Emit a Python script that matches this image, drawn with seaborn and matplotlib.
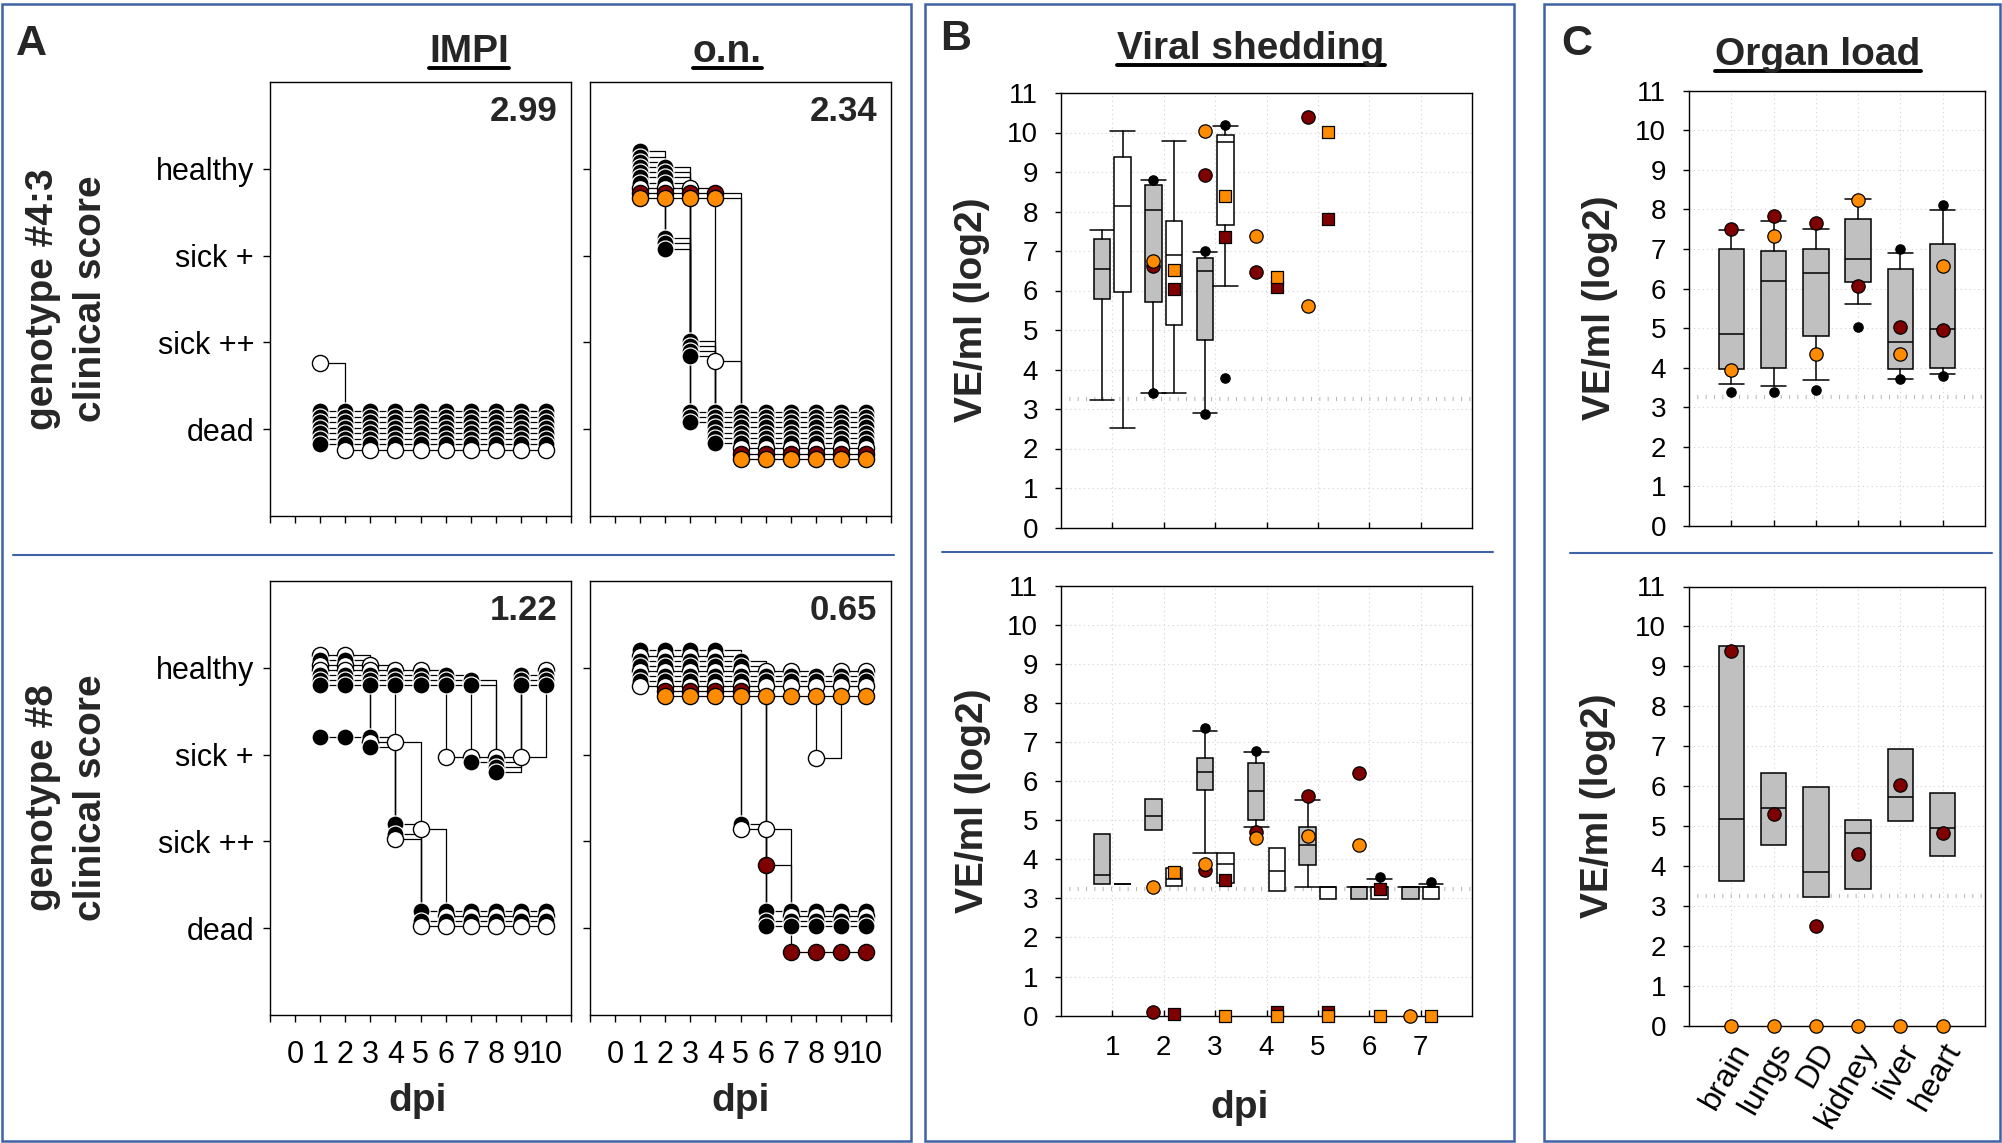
import matplotlib
matplotlib.use("Agg")
import matplotlib.pyplot as plt
import matplotlib.transforms as mtransforms
from matplotlib.lines import Line2D
from matplotlib.patches import Rectangle
import seaborn as sns
import numpy as np

# ---- Data -------------------------------------------####

# panel A: clinical score per animal and day (3 healthy, 2 sick +, 1 sick ++, 0 dead)
days = list(range(1, 11))
score_names = ["dead", "sick ++", "sick +", "healthy"]
day_ticks = list(range(-1, 12))
day_tick_labels = [""] + [str(d) for d in range(0, 11)] + [""]

impi_43_scores = [
    [0, 0, 0, 0, 0, 0, 0, 0, 0, 0],
    [0, 0, 0, 0, 0, 0, 0, 0, 0, 0],
    [0, 0, 0, 0, 0, 0, 0, 0, 0, 0],
    [0, 0, 0, 0, 0, 0, 0, 0, 0, 0],
    [0, 0, 0, 0, 0, 0, 0, 0, 0, 0],
    [0, 0, 0, 0, 0, 0, 0, 0, 0, 0],
    [0, 0, 0, 0, 0, 0, 0, 0, 0, 0],
    [1, 0, 0, 0, 0, 0, 0, 0, 0, 0],
]
impi_43_fill = ["k", "k", "k", "k", "k", "k", "k", "w"]

on_43_scores = [
    [3, 2, 0, 0, 0, 0, 0, 0, 0, 0],
    [3, 2, 0, 0, 0, 0, 0, 0, 0, 0],
    [3, 2, 0, 0, 0, 0, 0, 0, 0, 0],
    [3, 3, 1, 0, 0, 0, 0, 0, 0, 0],
    [3, 3, 1, 0, 0, 0, 0, 0, 0, 0],
    [3, 3, 1, 0, 0, 0, 0, 0, 0, 0],
    [3, 3, 1, 0, 0, 0, 0, 0, 0, 0],
    [3, 3, 3, 1, 0, 0, 0, 0, 0, 0],
    [3, 3, 3, 3, 0, 0, 0, 0, 0, 0],
    [3, 3, 3, 3, 0, 0, 0, 0, 0, 0],
]
on_43_fill = ["k", "k", "k", "k", "k", "k", "k", "w", "r", "o"]

impi_8_scores = [
    [2, 2, 2, 1, 0, 0, 0, 0, 0, 0],
    [3, 3, 2, 2, 1, 0, 0, 0, 0, 0],
    [3, 3, 2, 1, 0, 0, 0, 0, 0, 0],
    [3, 3, 3, 1, 0, 0, 0, 0, 0, 0],
    [3, 3, 3, 3, 3, 2, 2, 2, 2, 3],
    [3, 3, 3, 3, 3, 3, 2, 2, 3, 3],
    [3, 3, 3, 3, 3, 3, 3, 2, 3, 3],
    [3, 3, 3, 3, 3, 3, 3, 2, 3, 3],
]
impi_8_fill = ["k", "w", "k", "w", "w", "k", "k", "k"]

on_8_scores = [
    [3, 3, 3, 3, 1, 0, 0, 0, 0, 0],
    [3, 3, 3, 3, 1, 1, 0, 0, 0, 0],
    [3, 3, 3, 3, 3, 0, 0, 0, 0, 0],
    [3, 3, 3, 3, 3, 0, 0, 0, 0, 0],
    [3, 3, 3, 3, 3, 3, 3, 2, 3, 3],
    [3, 3, 3, 3, 3, 3, 3, 3, 3, 3],
    [3, 3, 3, 3, 3, 3, 3, 3, 3, 3],
    [3, 3, 3, 3, 3, 3, 3, 3, 3, 3],
    [None, 3, 3, 3, 3, 1, 0, 0, 0, 0],
    [None, 3, 3, 3, 3, 3, 3, 3, 3, 3],
]
on_8_fill = ["k", "w", "k", "k", "w", "k", "k", "w", "r", "o"]

score_values = ["2.99", "2.34", "1.22", "0.65"]

# panel B: viral shedding, genotype #4:3
shed_days = [1, 2, 3, 4, 5, 6, 7]
shed43_box_days = [1, 2, 3]
shed43_grey_q1 = [5.78, 5.72, 4.74]
shed43_grey_med = [6.55, 8.04, 6.49]
shed43_grey_q3 = [7.31, 8.66, 6.83]
shed43_grey_lo = [3.24, 3.40, 2.90]
shed43_grey_hi = [7.54, 8.79, 6.97]
shed43_white_q1 = [5.96, 5.13, 7.67]
shed43_white_med = [8.14, 6.89, 9.76]
shed43_white_q3 = [9.38, 7.76, 9.93]
shed43_white_lo = [2.53, 3.40, 6.12]
shed43_white_hi = [10.03, 9.78, 10.16]
shed43_black_grey_days = [2, 2, 3, 3]
shed43_black_grey = [8.81, 3.40, 7.00, 2.87]
shed43_black_white_days = [3, 3]
shed43_black_white = [10.18, 3.78]
shed43_pt_days = [2, 3, 4, 5]
shed43_orange_circ = [6.74, 10.03, 7.37, 5.62]
shed43_red_circ = [6.62, 8.93, 6.47, 10.40]
shed43_orange_sq = [6.53, 8.38, 6.34, 10.01]
shed43_red_sq = [6.05, 7.36, 6.10, 7.82]

# panel B: viral shedding, genotype #8
nan = np.nan
shed8_grey_q1 = [3.38, 4.74, 5.78, 5.00, 3.86, 2.98, 2.98]
shed8_grey_med = [3.59, 5.11, 6.24, 5.74, 4.38, 3.30, 3.30]
shed8_grey_q3 = [4.64, 5.55, 6.59, 6.48, 4.84, 3.30, 3.30]
shed8_grey_lo = [nan, nan, 4.17, 4.83, 3.30, nan, nan]
shed8_grey_hi = [nan, nan, 7.30, 6.74, 5.51, 3.30, 3.30]
shed8_white_q1 = [3.38, 3.32, 3.40, 3.19, 2.98, 2.98, 2.98]
shed8_white_med = [3.38, 3.50, 3.89, 3.71, 3.30, 3.30, 3.30]
shed8_white_q3 = [3.38, 3.78, 4.17, 4.30, 3.30, 3.30, 3.30]
shed8_white_lo = [nan, nan, nan, nan, nan, nan, nan]
shed8_white_hi = [nan, nan, nan, nan, nan, 3.51, 3.36]
shed8_black_grey_days = [3, 4]
shed8_black_grey = [7.36, 6.78]
shed8_black_white_days = [6, 7]
shed8_black_white = [3.55, 3.42]
shed8_orange_circ_days = [2, 3, 4, 5, 6, 7]
shed8_orange_circ = [3.30, 3.88, 4.54, 4.60, 4.37, 0.0]
shed8_red_circ_days = [2, 3, 4, 5, 6]
shed8_red_circ = [0.08, 3.74, 4.71, 5.62, 6.21]
shed8_orange_sq_days = [2, 3, 4, 5, 6, 7]
shed8_orange_sq = [3.67, 0.0, 0.0, 0.0, 0.0, 0.0]
shed8_red_sq_days = [2, 3, 4, 5, 6]
shed8_red_sq = [0.05, 3.46, 0.10, 0.10, 3.25]

detection_limit = 3.25

# panel C: organ load
organs = ["brain", "lungs", "DD", "kidney", "liver", "heart"]
organ_pos = [1, 2, 3, 4, 5, 6]
organ43_q1 = [3.98, 4.00, 4.80, 6.17, 3.96, 4.00]
organ43_med = [4.84, 6.19, 6.40, 6.75, 4.64, 4.98]
organ43_q3 = [7.01, 6.95, 7.01, 7.77, 6.50, 7.12]
organ43_lo = [3.60, 3.55, 3.69, 5.62, 3.72, 3.84]
organ43_hi = [7.48, 7.71, 7.51, 8.26, 6.91, 7.98]
organ43_black_pos = [1, 2, 3, 4, 5, 5, 6, 6]
organ43_black = [3.38, 3.39, 3.44, 5.04, 6.99, 3.71, 8.12, 3.79]
organ43_red = [7.50, 7.83, 7.65, 6.07, 5.02, 4.95]
organ43_orange = [3.94, 7.33, 4.34, 8.25, 4.34, 6.58]

organ8_q1 = [3.62, 4.53, 3.22, 3.42, 5.13, 4.25]
organ8_med = [5.18, 5.46, 3.85, 4.82, 5.72, 4.94]
organ8_q3 = [9.51, 6.33, 5.97, 5.14, 6.92, 5.82]
organ8_lo = [nan, nan, nan, nan, nan, nan]
organ8_hi = [nan, nan, nan, nan, nan, nan]
organ8_red = [9.38, 5.31, 2.50, 4.30, 6.04, 4.82]
organ8_orange = [0.0, 0.0, 0.0, 0.0, 0.0, 0.0]


# ---- Style -------------------------------------------####

sns.set_style("ticks")
plt.rcParams["font.family"] = ["Liberation Sans", "DejaVu Sans"]
plt.rcParams["axes.linewidth"] = 1.0

ORANGE = "#FF8C00"
DARKRED = "#7F0000"
GREY = "#C0C0C0"
BLUE = "#3F62A6"
fill_style = {"k": ("black", "white"), "w": ("white", "black"),
              "o": (ORANGE, "black"), "r": (DARKRED, "black")}

W, H = 2002, 1143
fig = plt.figure(figsize=(W / 100, H / 100), dpi=100)


def px_box(x0, y0, x1, y1):
    return [x0 / W, 1 - y1 / H, (x1 - x0) / W, (y1 - y0) / H]


# ---- Panel A: clinical scores -------------------------------------------####

def clinical_panel(rect, scores, fills, off_top, off_bot, value, left, bottom):
    ax = fig.add_axes(px_box(*rect))
    offs = np.linspace(off_top, off_bot, len(scores))
    ys = []
    for sc, off in zip(scores, offs):
        y = np.array([np.nan if v is None else v for v in sc], float) + off
        ys.append(y)
        ax.plot(days, y, drawstyle="steps-post", color="black", lw=0.9, zorder=2)
    for k, (y, fill) in enumerate(zip(ys, fills)):
        face, edge = fill_style[fill]
        size, ew = (150, 0.9) if fill == "k" else (135, 1.0)
        sns.scatterplot(x=days, y=y, ax=ax, s=size, color=face, edgecolor=edge,
                        linewidth=ew, zorder=3 + k, legend=False)
    ax.set_xlim(-1, 11)
    ax.set_ylim(-1, 4)
    ax.set_xticks(day_ticks)
    ax.set_xticklabels(day_tick_labels if bottom else [""] * len(day_ticks))
    ax.set_yticks([0, 1, 2, 3])
    ax.set_yticklabels(score_names if left else [""] * 4)
    ax.tick_params(axis="both", direction="out", length=5, width=1,
                   labelsize=22, colors="black")
    ax.tick_params(axis="y", pad=6.5)
    ax.tick_params(axis="x", pad=13)
    ax.set_xlabel("")
    ax.set_ylabel("")
    for s in ax.spines.values():
        s.set_visible(True)
        s.set_color("black")
    ax.text(0.955, 0.91, value, transform=ax.transAxes, ha="right",
            va="baseline", fontsize=25, fontweight="bold")
    return ax


clinical_panel((270, 82, 571, 516), impi_43_scores, impi_43_fill, 0.21, -0.24,
               score_values[0], True, False)
clinical_panel((590, 82, 891, 516), on_43_scores, on_43_fill, 0.20, -0.34,
               score_values[1], False, False)
clinical_panel((270, 581, 571, 1015), impi_8_scores, impi_8_fill, 0.20, -0.20,
               score_values[2], True, True)
clinical_panel((590, 581, 891, 1015), on_8_scores, on_8_fill, 0.20, -0.33,
               score_values[3], False, True)


# ---- Panels B and C: virus loads -------------------------------------------####

def draw_boxes(ax, pos, q1, med, q3, lo, hi, face, width, capw):
    for p, a, m, b, l, h in zip(pos, q1, med, q3, lo, hi):
        st = {"med": m, "q1": a, "q3": b,
              "whislo": a if np.isnan(l) else l,
              "whishi": b if np.isnan(h) else h, "fliers": []}
        art = ax.bxp([st], positions=[p], widths=width, capwidths=capw,
                     patch_artist=True, manage_ticks=False, showfliers=False,
                     boxprops=dict(facecolor=face, edgecolor="black", linewidth=1.1),
                     medianprops=dict(color="black", linewidth=1.1),
                     whiskerprops=dict(color="black", linewidth=1.1),
                     capprops=dict(color="black", linewidth=1.1), zorder=3)
        art["caps"][0].set_visible(not np.isnan(l))
        art["caps"][1].set_visible(not np.isnan(h))


def dots(ax, x, y, face, marker, size, z):
    sns.scatterplot(x=list(x), y=list(y), ax=ax, color=face, marker=marker, s=size,
                    edgecolor="black", linewidth=0.9, zorder=z, clip_on=False,
                    legend=False)


def load_axes(rect, xmax, ticks, labels):
    ax = fig.add_axes(px_box(*rect))
    ax.set_xlim(0, xmax)
    ax.set_ylim(0, 11)
    ax.set_yticks(range(0, 12))
    ax.set_xticks(ticks)
    ax.set_xticklabels(labels)
    ax.grid(True, color="#D2D2D2", lw=0.8, ls=(0, (1, 3)))
    ax.set_axisbelow(True)
    ax.axhline(detection_limit, color="#B8B8B8", lw=3, ls=(0, (0.25, 1.75)), zorder=1)
    ax.tick_params(axis="y", direction="out", length=4.5, width=1, labelsize=20,
                   pad=12, colors="black")
    ax.tick_params(axis="x", direction="in", length=4.5, width=1, labelsize=20,
                   pad=14, colors="black")
    for s in ax.spines.values():
        s.set_visible(True)
        s.set_color("black")
    return ax


GOFF, WOFF = -0.2, 0.2
S_BIG, S_SQ, S_BLACK = 92, 80, 45

# B top
ax = load_axes((1061, 93, 1472, 527.5), 8, shed_days, [""] * 7)
draw_boxes(ax, [d + GOFF for d in shed43_box_days], shed43_grey_q1, shed43_grey_med,
           shed43_grey_q3, shed43_grey_lo, shed43_grey_hi, GREY, 0.32, 0.48)
draw_boxes(ax, [d + WOFF for d in shed43_box_days], shed43_white_q1, shed43_white_med,
           shed43_white_q3, shed43_white_lo, shed43_white_hi, "white", 0.32, 0.48)
dots(ax, [d + GOFF for d in shed43_black_grey_days], shed43_black_grey, "black", "o", S_BLACK, 5)
dots(ax, [d + WOFF for d in shed43_black_white_days], shed43_black_white, "black", "o", S_BLACK, 5)
dots(ax, [d + GOFF for d in shed43_pt_days], shed43_red_circ, DARKRED, "o", S_BIG, 6)
dots(ax, [d + GOFF for d in shed43_pt_days], shed43_orange_circ, ORANGE, "o", S_BIG, 7)
dots(ax, [d + WOFF for d in shed43_pt_days], shed43_red_sq, DARKRED, "s", S_SQ, 6)
dots(ax, [d + WOFF for d in shed43_pt_days], shed43_orange_sq, ORANGE, "s", S_SQ, 7)

# B bottom
ax = load_axes((1061, 586, 1472, 1015.6), 8, shed_days, [str(d) for d in shed_days])
draw_boxes(ax, [d + GOFF for d in shed_days], shed8_grey_q1, shed8_grey_med,
           shed8_grey_q3, shed8_grey_lo, shed8_grey_hi, GREY, 0.32, 0.48)
draw_boxes(ax, [d + WOFF for d in shed_days], shed8_white_q1, shed8_white_med,
           shed8_white_q3, shed8_white_lo, shed8_white_hi, "white", 0.32, 0.48)
dots(ax, [d + GOFF for d in shed8_black_grey_days], shed8_black_grey, "black", "o", S_BLACK, 5)
dots(ax, [d + WOFF for d in shed8_black_white_days], shed8_black_white, "black", "o", S_BLACK, 5)
dots(ax, [d + GOFF for d in shed8_red_circ_days], shed8_red_circ, DARKRED, "o", S_BIG, 6)
dots(ax, [d + GOFF for d in shed8_orange_circ_days], shed8_orange_circ, ORANGE, "o", S_BIG, 7)
dots(ax, [d + WOFF for d in shed8_red_sq_days], shed8_red_sq, DARKRED, "s", S_SQ, 6)
dots(ax, [d + WOFF for d in shed8_orange_sq_days], shed8_orange_sq, ORANGE, "s", S_SQ, 7)

# C top
ax = load_axes((1689, 90.7, 1985, 526), 7, organ_pos, [""] * 6)
draw_boxes(ax, organ_pos, organ43_q1, organ43_med, organ43_q3, organ43_lo, organ43_hi,
           GREY, 0.6, 0.6)
dots(ax, organ43_black_pos, organ43_black, "black", "o", S_BLACK, 5)
dots(ax, organ_pos, organ43_red, DARKRED, "o", S_BIG, 6)
dots(ax, organ_pos, organ43_orange, ORANGE, "o", S_BIG, 7)

# C bottom
ax = load_axes((1689, 586.5, 1985, 1025.7), 7, organ_pos, organs)
draw_boxes(ax, organ_pos, organ8_q1, organ8_med, organ8_q3, organ8_lo, organ8_hi,
           GREY, 0.6, 0.6)
dots(ax, organ_pos, organ8_red, DARKRED, "o", S_BIG, 6)
dots(ax, organ_pos, organ8_orange, ORANGE, "o", S_BIG, 7)
shift = mtransforms.ScaledTranslation(12 / 100, 0, fig.dpi_scale_trans)
for lab in ax.get_xticklabels():
    lab.set_rotation(60)
    lab.set_ha("right")
    lab.set_va("center")
    lab.set_rotation_mode("anchor")
    lab.set_fontsize(23)
    lab.set_transform(lab.get_transform() + shift)


# ---- Texts, titles, frames -------------------------------------------####

def ftext(x, y, s, **kw):
    return fig.text(x / W, 1 - y / H, s, **kw)


for x, y, s in [(16, 55, "A"), (940, 50, "B"), (1561, 55, "C")]:
    ftext(x, y, s, fontsize=31, fontweight="bold", va="baseline", ha="left")

titles = [ftext(469, 62, "IMPI", fontsize=28, fontweight="bold", ha="center", va="baseline"),
          ftext(727, 62, "o.n.", fontsize=28, fontweight="bold", ha="center", va="baseline"),
          ftext(1251, 59, "Viral shedding", fontsize=28, fontweight="bold", ha="center", va="baseline"),
          ftext(1818, 65, "Organ load", fontsize=28, fontweight="bold", ha="center", va="baseline")]

ylab_kw = dict(rotation=90, ha="center", va="center", fontsize=28, fontweight="bold",
               multialignment="center", linespacing=1.45)
ftext(67, 299, "genotype #4:3\nclinical score", **ylab_kw)
ftext(67, 798, "genotype #8\nclinical score", **ylab_kw)
ftext(972, 310, "VE/ml (log2)", **ylab_kw)
ftext(973, 801, "VE/ml (log2)", **ylab_kw)
ftext(1600, 308, "VE/ml (log2)", **ylab_kw)
ftext(1598, 806, "VE/ml (log2)", **ylab_kw)

for x, y in [(418, 1101), (741, 1101), (1240, 1108)]:
    ftext(x, y, "dpi", fontsize=28, fontweight="bold", ha="center", va="center")

# panel frames and separators
for x0, x1 in [(2, 911), (925, 1514), (1544, 2000)]:
    fig.add_artist(Rectangle((x0 / W, 2 / H), (x1 - x0) / W, (1141 - 4) / H,
                             transform=fig.transFigure, fill=False,
                             edgecolor=BLUE, lw=1.8))
for x0, x1, y in [(13, 894, 555), (942, 1493, 552), (1570, 1992, 553)]:
    fig.add_artist(Line2D([x0 / W, x1 / W], [1 - y / H, 1 - y / H],
                          transform=fig.transFigure, color=BLUE, lw=1.5))

# underline the column titles
fig.canvas.draw()
renderer = fig.canvas.get_renderer()
for t in titles:
    bb = t.get_window_extent(renderer)
    yb = bb.y0 + 0.21 * bb.height - 6
    fig.add_artist(Line2D([bb.x0 / W, bb.x1 / W], [yb / H, yb / H],
                          transform=fig.transFigure, color="black", lw=2.8,
                          solid_capstyle="round"))

fig.savefig("out.png", dpi=100)
